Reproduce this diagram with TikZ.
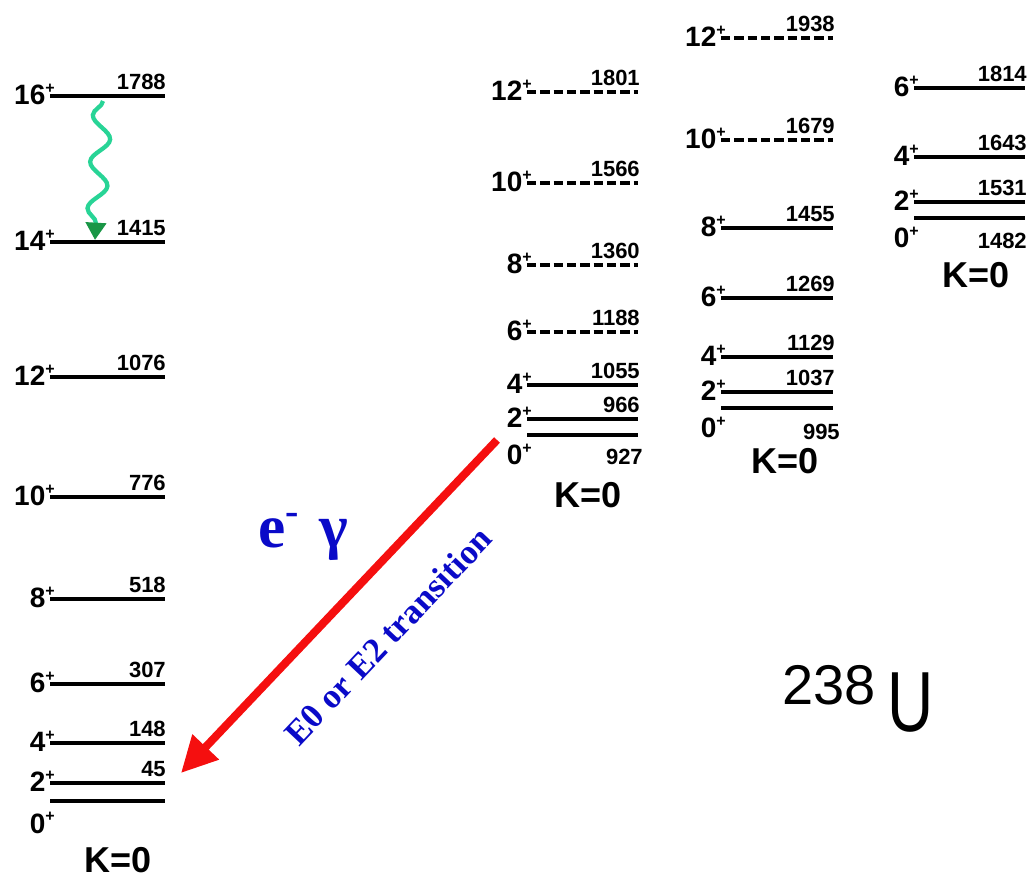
\documentclass[tikz,border=0pt]{standalone}
\usepackage{fontspec}
\setmainfont{Liberation Sans}
\newfontfamily\serifbold{Liberation Serif}
\usetikzlibrary{arrows.meta,decorations.pathmorphing}
\definecolor{wavegreen}{RGB}{40,212,150}
\definecolor{tipgreen}{RGB}{25,150,70}
\definecolor{arrred}{RGB}{245,15,15}
\definecolor{txtblue}{RGB}{10,10,200}
\newcommand\plussup{\raisebox{0.42em}{\fontsize{12}{12}\selectfont\bfseries +}}
\begin{document}
\begin{tikzpicture}[x=0.75pt,y=-0.75pt,
  lvl/.style={line width=2.3pt},
  dlvl/.style={line width=2.3pt, dash pattern=on 7pt off 3pt},
  spin/.style={anchor=base east, inner sep=0pt, font=\bfseries\fontsize{21}{21}\selectfont},
  en/.style={anchor=base east, inner sep=0pt, font=\bfseries\fontsize{16.5}{16.5}\selectfont},
  kzero/.style={anchor=base, inner sep=0pt, font=\bfseries\fontsize{27}{27}\selectfont},
  wave/.style={wavegreen, line width=3.2pt, decorate,
    decoration={snake, segment length=35pt, amplitude=7pt, mirror, post length=12pt}},
  bigarrow/.style={arrred, line width=6pt, -{Triangle[length=27pt,width=26pt]}},
  bluetxt/.style={txtblue, inner sep=0pt}]
\useasboundingbox (0,0) rectangle (1033,880);

% ---------- band 1 (ground band) ----------
\foreach \n/\y/\s/\e in {a16/96/16/1788, a14/242/14/1415, a12/377/12/1076, a10/497/10/776,
                         a8/599/8/518, a6/684/6/307, a4/743/4/148, a2/783/2/45}{
  \draw[lvl] (50,\y) -- (165,\y);
  \node[spin] (s\n) at (55,\y+9) {\s\plussup};
  \node[en] (e\n) at (166,\y-6) {\e};
}
\draw[lvl] (50,801) -- (165,801);
\node[spin] (sa0) at (55,833) {0\plussup};
\node[kzero] (ka) at (118,872) {K=0};

% ---------- band 2 ----------
\foreach \n/\y/\s/\e/\st in {b12/92/12/1801/dlvl, b10/183/10/1566/dlvl, b8/265/8/1360/dlvl,
                             b6/332/6/1188/dlvl, b4/385/4/1055/lvl, b2/419/2/966/lvl}{
  \draw[\st] (527,\y) -- (638,\y);
  \node[spin] (s\n) at (532,\y+9) {\s\plussup};
  \node[en] (e\n) at (640,\y-6) {\e};
}
\draw[lvl] (527,435) -- (638,435);
\node[spin] (sb0) at (532,465) {0\plussup};
\node[en] (eb0) at (643,465) {927};
\node[kzero] (kb) at (588,508) {K=0};

% ---------- band 3 ----------
\foreach \n/\y/\s/\e/\st in {c12/38/12/1938/dlvl, c10/140/10/1679/dlvl, c8/228/8/1455/lvl,
                             c6/298/6/1269/lvl, c4/357/4/1129/lvl, c2/392/2/1037/lvl}{
  \draw[\st] (721,\y) -- (833,\y);
  \node[spin] (s\n) at (726,\y+9) {\s\plussup};
  \node[en] (e\n) at (835,\y-6) {\e};
}
\draw[lvl] (721,408) -- (833,408);
\node[spin] (sc0) at (726,438) {0\plussup};
\node[en] (ec0) at (840,440) {995};
\node[kzero] (kc) at (785,474) {K=0};

% ---------- band 4 ----------
\foreach \n/\y/\s/\e in {d6/88/6/1814, d4/157/4/1643, d2/202/2/1531}{
  \draw[lvl] (914,\y) -- (1025,\y);
  \node[spin] (s\n) at (919,\y+9) {\s\plussup};
  \node[en] (e\n) at (1027,\y-6) {\e};
}
\draw[lvl] (914,218) -- (1025,218);
\node[spin] (sd0) at (919,248) {0\plussup};
\node[en] (ed0) at (1027,249) {1482};
\node[kzero] (kd) at (976,288) {K=0};

% ---------- wavy gamma 16+ -> 14+ ----------
\coordinate (wtop) at (103,101);
\coordinate (wbot) at (95,240);
\draw[wave, -{Triangle[length=13pt,width=15pt,color=tipgreen,fill=tipgreen]}] (wtop) -- (wbot);

% ---------- red E0/E2 arrow ----------
\coordinate (rstart) at (497,440);
\coordinate (rend) at (181,773);
\draw[bigarrow] (rstart) -- (rend);

\node[bluetxt, anchor=base west, font=\serifbold\bfseries\fontsize{46}{46}\selectfont]
  (egam) at (258,548) {e\raisebox{0.38em}{\fontsize{30}{30}\selectfont -}\,\,γ};
\node[bluetxt, rotate=46.6, font=\serifbold\bfseries\fontsize{26}{26}\selectfont]
  (trans) at (388,636) {E0 or E2 transition};

% ---------- nucleus label ----------
\node[anchor=base west, inner sep=0pt, font=\fontsize{42}{42}\selectfont] (mass) at (782,705) {238};
\node[anchor=base west, inner sep=0pt, xscale=0.75, font=\fontsize{64}{64}\selectfont] (elem) at (887,732) {U};
\end{tikzpicture}
\end{document}
